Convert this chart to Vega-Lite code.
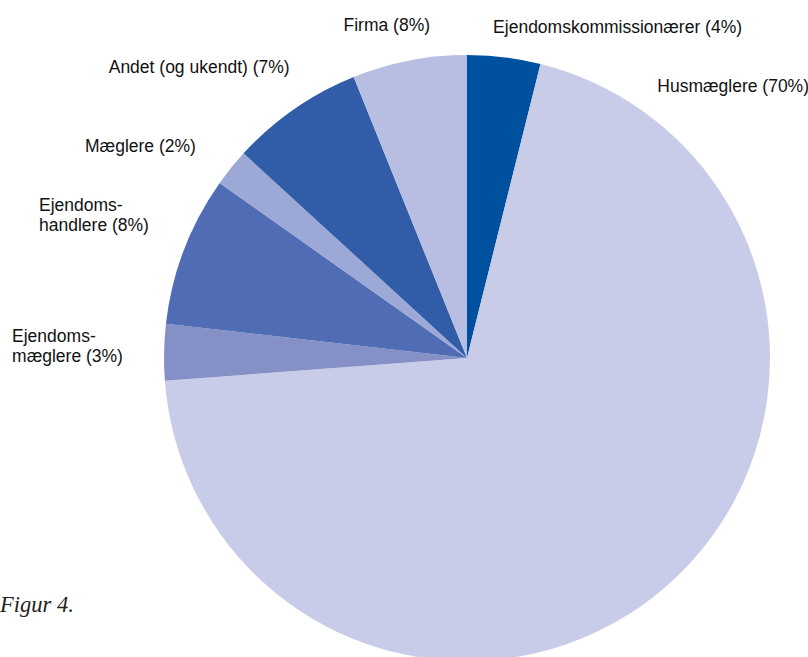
{
  "$schema": "https://vega.github.io/schema/vega-lite/v6.json",
  "width": 934,
  "height": 716,
  "autosize": {"type": "none"},
  "padding": 0,
  "background": "white",
  "config": {"view": {"stroke": null}},
  "title": {"text": "Figur 4.", "orient": "bottom", "anchor": "start", "frame": "group", "offset": -111, "baseline": "middle", "font": "Liberation Serif", "fontStyle": "italic", "fontWeight": "normal", "fontSize": 22.5, "color": "#222222"},
  "data": {"values": [
    {"k": 1, "cat": "Ejendomskommissionærer", "label": "Ejendomskommissionærer (4%)", "value": 3.9},
    {"k": 2, "cat": "Husmæglere", "label": "Husmæglere (70%)", "value": 69.9},
    {"k": 3, "cat": "Ejendomsmæglere", "label": "Ejendoms-\nmæglere (3%)", "value": 3.0},
    {"k": 4, "cat": "Ejendomshandlere", "label": "Ejendoms-\nhandlere (8%)", "value": 8.0},
    {"k": 5, "cat": "Mæglere", "label": "Mæglere (2%)", "value": 2.0},
    {"k": 6, "cat": "Andet", "label": "Andet (og ukendt) (7%)", "value": 7.1},
    {"k": 7, "cat": "Firma", "label": "Firma (8%)", "value": 6.1}
  ]},
  "layer": [
    {
      "mark": {"type": "arc", "outerRadius": 303, "stroke": null},
      "encoding": {
        "theta": {"field": "value", "type": "quantitative", "stack": true},
        "order": {"field": "k", "type": "quantitative"},
        "color": {"field": "cat", "type": "nominal", "legend": null,
          "scale": {"domain": ["Ejendomskommissionærer", "Husmæglere", "Ejendomsmæglere", "Ejendomshandlere", "Mæglere", "Andet", "Firma"],
                    "range": ["#0050a0", "#c8cce8", "#8490c6", "#506cb4", "#9ca8d6", "#305ca8", "#b8bee2"]}}
      }
    },
    {
      "mark": {"type": "text", "radius": 320, "align": "left", "baseline": "middle", "dx": -13, "dy": -12, "font": "Liberation Sans", "fontSize": 17.5, "color": "#111111"},
      "encoding": {
        "theta": {"field": "value", "type": "quantitative", "stack": true},
        "order": {"field": "k", "type": "quantitative"},
        "text": {"condition": {"test": "datum.k == 1", "field": "label"}, "value": ""}
      }
    },
    {
      "mark": {"type": "text", "radius": 320, "align": "left", "baseline": "middle", "dx": -16, "dy": -516, "font": "Liberation Sans", "fontSize": 17.5, "color": "#111111"},
      "encoding": {
        "theta": {"field": "value", "type": "quantitative", "stack": true},
        "order": {"field": "k", "type": "quantitative"},
        "text": {"condition": {"test": "datum.k == 2", "field": "label"}, "value": ""}
      }
    },
    {
      "mark": {"type": "text", "radius": 320, "align": "left", "baseline": "middle", "lineBreak": "\n", "lineHeight": 20, "dx": -135, "dy": -15, "font": "Liberation Sans", "fontSize": 17.5, "color": "#111111"},
      "encoding": {
        "theta": {"field": "value", "type": "quantitative", "stack": true},
        "order": {"field": "k", "type": "quantitative"},
        "text": {"condition": {"test": "datum.k == 3", "field": "label"}, "value": ""}
      }
    },
    {
      "mark": {"type": "text", "radius": 320, "align": "left", "baseline": "middle", "lineBreak": "\n", "lineHeight": 20, "dx": -129, "dy": -38, "font": "Liberation Sans", "fontSize": 17.5, "color": "#111111"},
      "encoding": {
        "theta": {"field": "value", "type": "quantitative", "stack": true},
        "order": {"field": "k", "type": "quantitative"},
        "text": {"condition": {"test": "datum.k == 4", "field": "label"}, "value": ""}
      }
    },
    {
      "mark": {"type": "text", "radius": 320, "align": "right", "baseline": "middle", "dx": -22, "dy": -10, "font": "Liberation Sans", "fontSize": 17.5, "color": "#111111"},
      "encoding": {
        "theta": {"field": "value", "type": "quantitative", "stack": true},
        "order": {"field": "k", "type": "quantitative"},
        "text": {"condition": {"test": "datum.k == 5", "field": "label"}, "value": ""}
      }
    },
    {
      "mark": {"type": "text", "radius": 320, "align": "right", "baseline": "middle", "dx": 5, "dy": -27, "font": "Liberation Sans", "fontSize": 17.5, "color": "#111111"},
      "encoding": {
        "theta": {"field": "value", "type": "quantitative", "stack": true},
        "order": {"field": "k", "type": "quantitative"},
        "text": {"condition": {"test": "datum.k == 6", "field": "label"}, "value": ""}
      }
    },
    {
      "mark": {"type": "text", "radius": 320, "align": "right", "baseline": "middle", "dx": 24, "dy": -18, "font": "Liberation Sans", "fontSize": 17.5, "color": "#111111"},
      "encoding": {
        "theta": {"field": "value", "type": "quantitative", "stack": true},
        "order": {"field": "k", "type": "quantitative"},
        "text": {"condition": {"test": "datum.k == 7", "field": "label"}, "value": ""}
      }
    }
  ]
}
